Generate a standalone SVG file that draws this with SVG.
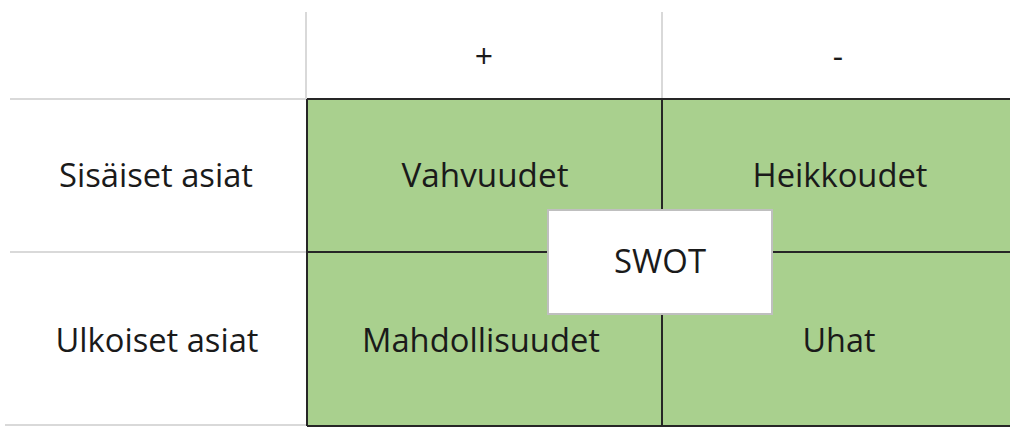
<svg xmlns="http://www.w3.org/2000/svg" width="1010" height="428" viewBox="0 0 1010 428">
<style>
.t{font-family:"Open Sans","Noto Sans","Liberation Sans",sans-serif;font-size:32px;fill:#1a1a1a;text-anchor:middle}
.g{stroke:#d9d9d9;stroke-width:2;fill:none}
.b{stroke:#262626;stroke-width:2;fill:none}
</style>
<rect width="1010" height="428" fill="#ffffff"/>
<g id="grid">
<line class="g" x1="306" y1="12" x2="306" y2="99"/>
<line class="g" x1="662" y1="12" x2="662" y2="99"/>
<line class="g" x1="10" y1="99" x2="306" y2="99"/>
<line class="g" x1="10" y1="252" x2="306" y2="252"/>
<line class="g" x1="5" y1="425" x2="306" y2="425"/>
</g>
<g id="matrix">
<rect x="307" y="99" width="710" height="326" fill="#a9d08e"/>
<line class="b" x1="307" y1="99" x2="1010" y2="99"/>
<line class="b" x1="307" y1="426" x2="1010" y2="426"/>
<line class="b" x1="307" y1="99" x2="307" y2="426"/>
<line class="b" x1="662" y1="99" x2="662" y2="426"/>
<line class="b" x1="307" y1="252" x2="1010" y2="252"/>
</g>
<g id="header-plus"><text class="t" x="484" y="68">+</text></g>
<g id="header-minus"><text class="t" x="838" y="68">-</text></g>
<g id="row-internal"><text class="t" x="156" y="187" textLength="194" lengthAdjust="spacingAndGlyphs">Sisäiset asiat</text></g>
<g id="row-external"><text class="t" x="157" y="352" textLength="203" lengthAdjust="spacingAndGlyphs">Ulkoiset asiat</text></g>
<g id="strengths"><text class="t" x="485" y="187" textLength="167" lengthAdjust="spacingAndGlyphs">Vahvuudet</text></g>
<g id="weaknesses"><text class="t" x="840" y="187" textLength="175" lengthAdjust="spacingAndGlyphs">Heikkoudet</text></g>
<g id="opportunities"><text class="t" x="481" y="352" textLength="238" lengthAdjust="spacingAndGlyphs">Mahdollisuudet</text></g>
<g id="threats"><text class="t" x="839" y="352" textLength="73" lengthAdjust="spacingAndGlyphs">Uhat</text></g>
<g id="swot">
<rect x="548" y="210" width="224" height="104" fill="#ffffff" stroke="#bfbfbf" stroke-width="2"/>
<text class="t" x="660" y="273" textLength="92" lengthAdjust="spacingAndGlyphs">SWOT</text>
</g>
</svg>
